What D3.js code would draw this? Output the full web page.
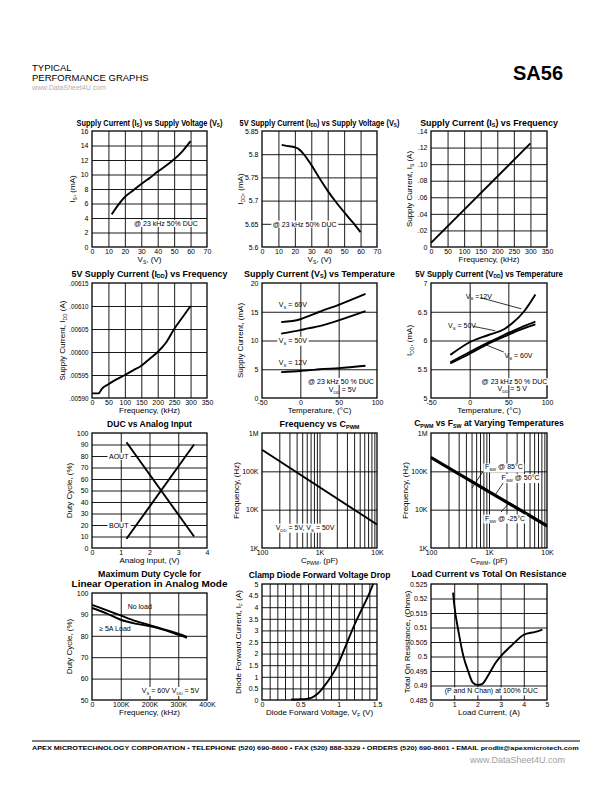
<!DOCTYPE html>
<html><head><meta charset="utf-8">
<script src="https://cdn.jsdelivr.net/npm/d3@7"></script>
<style>body{margin:0;background:#fff}</style>
</head><body><script>
// ---------------- DATA ----------------
// Chart 1: Supply Current Is vs Vs
const c1_vs=[12,15,20,25,30,35,40,45,50,55,60];
const c1_is=[4.5,5.5,6.9,7.8,8.7,9.5,10.4,11.2,12.1,13.2,14.6];
// Chart 2: 5V supply current Idd vs Vs
const c2_vs=[12,15,20,22,25,30,35,40,45,50,55,60];
const c2_idd=[5.82,5.818,5.815,5.812,5.802,5.777,5.748,5.721,5.697,5.675,5.654,5.632];
// Chart 3: Is vs frequency
const c3_f=[0,300];
const c3_is=[0.005,0.125];
// Chart 4: Idd vs frequency
const c4_f=[0,20,30,50,100,125,150,175,200,225,250,275,300];
const c4_idd=[0.00591,0.00591,0.00592,0.00593,0.00595,0.00596,0.00597,0.005985,0.006,0.00602,0.00605,0.006075,0.0061];
// Chart 5: Supply current vs temperature
const c5_t=[-25,0,10,25,50,85];
const c5_60=[13.2,13.7,14.2,15.0,16.2,18.1];
const c5_50=[11.2,11.8,12.1,12.5,13.5,15.1];
const c5_12=[4.5,4.7,4.8,5.0,5.2,5.6];
// Chart 6: Idd vs temperature
const c6_t=[-25,0,25,45,55,70,85];
const c6_12=[5.75,5.97,6.1,6.2,6.3,6.5,6.8];
const c6_50=[5.62,5.8,5.97,6.1,6.16,6.25,6.33];
const c6_60=[5.6,5.77,5.95,6.07,6.13,6.21,6.28];
// Chart 7: DUC vs analog input
const c7_v=[1.2,3.55];
const c7_aout=[92,10];
const c7_bout=[8,90];
// Chart 8: Frequency vs Cpwm
const c8_c=[100,10000];
const c8_f=[365000,4100];
// Chart 9: Cpwm vs Fsw at temperatures
const c9_c=[100,10000];
const c9_85=[240000,4000];
const c9_50=[230000,3800];
const c9_m25=[220000,3600];
// Chart 10: Maximum duty cycle
const c10_f=[0,50000,100000,150000,200000,250000,300000,330000];
const c10_noload=[94.5,92,89.5,87,85,83,81,79.5];
const c10_5a=[93,90.5,87.5,85.7,84.5,82.8,80.5,79];
// Chart 11: Clamp diode
const c11_v=[0.38,0.5,0.6,0.65,0.7,0.75,0.8,0.9,1.0,1.1,1.2,1.3,1.4,1.45];
const c11_i=[0.02,0.03,0.06,0.1,0.2,0.35,0.55,1.0,1.6,2.4,3.2,3.9,4.6,5.0];
// Chart 12: Load current vs on resistance
const c12_a=[0.95,1.0,1.2,1.4,1.6,1.8,2.0,2.2,2.5,2.8,3.0,3.5,4.0,4.5,4.8];
const c12_r=[0.522,0.518,0.508,0.5,0.495,0.491,0.4902,0.4905,0.494,0.498,0.5,0.504,0.5075,0.5085,0.5093];

// tick labels
const t_0_70=["0","10","20","30","40","50","60","70"];
const t_0_350=["0","50","100","150","200","250","300","350"];
const t_0_16=["0","2","4","6","8","10","12","14","16"];
const t_c2y=["5.6","5.65","5.7","5.75","5.8","5.85"];
const t_c3y=["0",".02",".04",".06",".08",".10",".12",".14"];
const t_c4y=[".00590",".00595",".00600",".00605",".00610",".00615"];
const t_temp=["-50","0","50","100"];
const t_c5y=["0","5","10","15","20"];
const t_c6y=["5","5.5","6","6.5","7"];
const t_c7x=["0","1","2","3","4"];
const t_c7y=["0","10","20","30","40","50","60","70","80","90","100"];
const t_logx=["100","1K","10K"];
const t_logy=["1K","10K","100K","1M"];
const t_c10x=["0","100K","200K","300K","400K"];
const t_c10y=["50","60","70","80","90","100"];
const t_c11x=["0","0.5","1","1.5"];
const t_c11y=["0","0.5","1","1.5","2","2.5","3","3.5","4","4.5","5"];
const t_c12x=["0","1","2","3","4","5"];
const t_c12y=["0.485","0.49","0.495","0.5","0.505","0.51","0.515","0.52","0.525"];

// ---------------- DRAW ----------------
const FONT="'Liberation Sans',Arial,Helvetica,sans-serif";
const svg=d3.select("body").append("svg").attr("width",612).attr("height",792)
  .style("font-family",FONT);

function rich(sel,str,fs,sh){
  const shift=fs*(sh==null?0.28:sh);
  const parts=str.split(/(_\{[^}]*\})/).filter(s=>s.length);
  let shifted=false;
  parts.forEach(p=>{
    if(p.startsWith("_{")){
      sel.append("tspan").attr("font-size",fs*0.62).attr("dy",shift).text(p.slice(2,-1));
      shifted=true;
    } else {
      const t=sel.append("tspan").text(p);
      if(shifted){t.attr("dy",-shift);shifted=false;}
    }
  });
  return sel;
}
// text squeezed horizontally to a target width (condensed look)
function squeezed(parent,cx,y,width,anchor){
  const g=parent.append("g");
  const t=g.append("text").attr("x",0).attr("y",0).attr("text-anchor",anchor);
  return {g,t,fit(){
    const w=t.node().getComputedTextLength();
    const s=width/w;
    g.attr("transform",`translate(${cx},${y}) scale(${s},1)`);
  }};
}
const zip=(a,b)=>a.map((v,i)=>[v,b[i]]);
const range=(a,b,s)=>d3.range(a,b+s/2,s).map(v=>+v.toFixed(6));
const logGrid=[200,300,400,500,600,700,800,900,1000,2000,3000,4000,5000,6000,7000,8000,9000];

function panel(c){
  const [x0,x1]=c.xr,[y0,y1]=c.yr;
  const x=(c.xlog?d3.scaleLog():d3.scaleLinear()).domain(c.xd).range([x0,x1]);
  const y=(c.ylog?d3.scaleLog():d3.scaleLinear()).domain(c.yd).range([y1,y0]);
  const g=svg.append("g");
  g.append("g").attr("transform",`translate(0,${y1})`)
    .call(d3.axisBottom(x).tickValues(c.xgrid).tickSize(-(y1-y0)).tickFormat(""))
    .call(s=>{s.select(".domain").remove();s.selectAll("line").attr("stroke","#000").attr("stroke-width",0.9);});
  g.append("g").attr("transform",`translate(${x0},0)`)
    .call(d3.axisLeft(y).tickValues(c.ygrid).tickSize(-(x1-x0)).tickFormat(""))
    .call(s=>{s.select(".domain").remove();s.selectAll("line").attr("stroke","#000").attr("stroke-width",0.9);});
  const xa=g.append("g").attr("transform",`translate(0,${y1})`)
    .call(d3.axisBottom(x).tickValues(c.xticks).tickFormat((d,i)=>c.xlab[i]).tickSize(0).tickPadding(2.5));
  xa.select(".domain").remove();
  xa.selectAll("text").attr("font-family",FONT).attr("font-size",c.xfs||7).attr("fill","#000");
  const ya=g.append("g").attr("transform",`translate(${x0},0)`)
    .call(d3.axisLeft(y).tickValues(c.yticks).tickFormat((d,i)=>c.ylab[i]).tickSize(0).tickPadding(3.5));
  ya.select(".domain").remove();
  ya.selectAll("text").attr("font-family",FONT).attr("font-size",c.yfs||7).attr("fill","#000");
  const line=d3.line().x(d=>x(d[0])).y(d=>y(d[1])).curve(c.curve||d3.curveMonotoneX);
  c.series.forEach(s=>{
    g.append("path").datum(s.data).attr("d",line).attr("fill","none")
      .attr("stroke","#000").attr("stroke-width",s.w||1.9).attr("stroke-linejoin","round");
  });
  g.append("rect").attr("x",x0).attr("y",y0).attr("width",x1-x0).attr("height",y1-y0)
    .attr("fill","none").attr("stroke","#000").attr("stroke-width",1.3);
  (c.leaders||[]).forEach(l=>{
    g.append("line").attr("x1",x(l[0][0])).attr("y1",y(l[0][1])).attr("x2",x(l[1][0])).attr("y2",y(l[1][1]))
      .attr("stroke","#000").attr("stroke-width",0.8);
  });
  (c.notes||[]).forEach(n=>{
    const fs=n.fs||7;
    const t=g.append("text").attr("x",x(n.x)).attr("y",y(n.y)).attr("font-size",fs)
      .attr("text-anchor",n.anchor||"start");
    rich(t,n.t,fs);
    if(n.bg){
      const b=t.node().getBBox();
      g.insert("rect",()=>t.node()).attr("x",b.x-1.5).attr("y",b.y).attr("width",b.width+3).attr("height",b.height).attr("fill","#fff");
    }
  });
  c.title.forEach((tt,i)=>{
    const q=squeezed(svg,(x0+x1)/2,c.ty+i*10,c.tw[i],"middle");
    q.t.attr("font-weight","bold").attr("font-size",c.tfs||9);
    rich(q.t,tt,c.tfs||9,0.2);
    q.fit();
  });
  const xl=svg.append("text").attr("x",(x0+x1)/2).attr("y",y1+15).attr("text-anchor","middle").attr("font-size",8);
  rich(xl,c.xlabel,8);
  const yl=svg.append("text").attr("transform",`translate(${x0-c.yoff},${(y0+y1)/2}) rotate(-90)`)
    .attr("text-anchor","middle").attr("font-size",8);
  rich(yl,c.ylabel,8);
}

const C1=[92,207],C2=[262,377],C3=[431,547];
const R1=[131,247],R2=[283,398],R3=[433,548],R4=[584,700];

panel({xr:C1,yr:R1,xd:[0,70],yd:[0,16],xgrid:range(10,60,10),ygrid:range(2,14,2),
  xticks:range(0,70,10),xlab:t_0_70,yticks:range(0,16,2),ylab:t_0_16,
  series:[{data:zip(c1_vs,c1_is)}],
  notes:[{x:45,y:2.9,t:"@ 23 kHz 50% DUC",anchor:"middle",bg:true}],
  title:["Supply Current (I_{S}) vs Supply Voltage (V_{S})"],tw:[146],ty:125.5,
  xlabel:"V_{S}, (V)",ylabel:"I_{S}, (mA)",yoff:17});

panel({xr:C2,yr:R1,xd:[0,70],yd:[5.6,5.85],xgrid:range(10,60,10),ygrid:[5.65,5.7,5.75,5.8],
  xticks:range(0,70,10),xlab:t_0_70,yticks:[5.6,5.65,5.7,5.75,5.8,5.85],ylab:t_c2y,
  series:[{data:zip(c2_vs,c2_idd)}],
  notes:[{x:26,y:5.644,t:"@ 23 kHz 50% DUC",anchor:"middle",bg:true}],
  title:["5V Supply Current (I_{DD}) vs Supply Voltage (V_{S})"],tw:[160],ty:125.5,
  xlabel:"V_{S}, (V)",ylabel:"I_{DD}, (mA)",yoff:19});

panel({xr:C3,yr:R1,xd:[0,350],yd:[0,0.14],xgrid:range(50,300,50),ygrid:range(0.02,0.12,0.02),
  xticks:range(0,350,50),xlab:t_0_350,yticks:range(0,0.14,0.02),ylab:t_c3y,
  series:[{data:zip(c3_f,c3_is)}],curve:d3.curveLinear,
  title:["Supply Current (I_{S}) vs Frequency"],tw:[138],ty:125.5,
  xlabel:"Frequency, (kHz)",ylabel:"Supply Current, I_{S} (A)",yoff:19});

panel({xr:C1,yr:R2,xd:[0,350],yd:[0.0059,0.00615],xgrid:range(50,300,50),ygrid:[0.00595,0.006,0.00605,0.0061],
  xticks:range(0,350,50),xlab:t_0_350,yticks:[0.0059,0.00595,0.006,0.00605,0.0061,0.00615],ylab:t_c4y,yfs:6.3,
  series:[{data:zip(c4_f,c4_idd)}],
  title:["5V Supply Current (I_{DD}) vs Frequency"],tw:[156],ty:276.5,
  xlabel:"Frequency, (kHz)",ylabel:"Supply Current, I_{DD} (A)",yoff:27});

panel({xr:C2,yr:R2,xd:[-50,100],yd:[0,20],xgrid:[0,50],ygrid:[5,10,15],
  xticks:[-50,0,50,100],xlab:t_temp,yticks:[0,5,10,15,20],ylab:t_c5y,
  series:[{data:zip(c5_t,c5_60)},{data:zip(c5_t,c5_50)},{data:zip(c5_t,c5_12)}],
  notes:[{x:-28,y:15.8,t:"V_{S} = 60V"},{x:-28,y:9.6,t:"V_{S} = 50V",bg:true},{x:-28,y:5.8,t:"V_{S} = 12V"},
    {x:53,y:2.45,t:"@ 23 kHz 50 % DUC",anchor:"middle",bg:true},{x:55,y:1.0,t:"V_{DD} = 5V",anchor:"middle"}],
  title:["Supply Current (V_{S}) vs Temperature"],tw:[151],ty:276.5,
  xlabel:"Temperature, (°C)",ylabel:"Supply Current, (mA)",yoff:19});

panel({xr:C3,yr:R2,xd:[-50,100],yd:[5,7],xgrid:[0,50],ygrid:[5.5,6,6.5],
  xticks:[-50,0,50,100],xlab:t_temp,yticks:[5,5.5,6,6.5,7],ylab:t_c6y,
  series:[{data:zip(c6_t,c6_12)},{data:zip(c6_t,c6_50)},{data:zip(c6_t,c6_60)}],
  leaders:[[[14,6.745],[67,6.55]],[[5,6.245],[33,6.17]],[[44,5.8],[20,5.93]]],
  notes:[{x:-5,y:6.73,t:"V_{S} =12V"},{x:-28,y:6.22,t:"V_{S} = 50V"},{x:45,y:5.7,t:"V_{S} = 60V"},
    {x:58,y:5.24,t:"@ 23 kHz 50 % DUC",anchor:"middle",bg:true},{x:55,y:5.12,t:"V_{DD} = 5 V",anchor:"middle"}],
  title:["5V Supply Current (V_{DD}) vs Temperature"],tw:[148],ty:276.5,
  xlabel:"Temperature, (°C)",ylabel:"I_{DD}, (mA)",yoff:19});

panel({xr:C1,yr:R3,xd:[0,4],yd:[0,100],xgrid:[1,2,3],ygrid:range(10,90,10),
  xticks:[0,1,2,3,4],xlab:t_c7x,yticks:range(0,100,10),ylab:t_c7y,
  series:[{data:zip(c7_v,c7_aout)},{data:zip(c7_v,c7_bout)}],curve:d3.curveLinear,
  notes:[{x:0.93,y:77.5,t:"AOUT",anchor:"middle",bg:true},{x:0.93,y:17.5,t:"BOUT",anchor:"middle",bg:true}],
  title:["DUC vs Analog Input"],tw:[85],ty:427,
  xlabel:"Analog Input, (V)",ylabel:"Duty Cycle, (%)",yoff:20});

panel({xr:C2,yr:R3,xlog:true,ylog:true,xd:[100,10000],yd:[1000,1e6],xgrid:logGrid,ygrid:[1e4,1e5],
  xticks:[100,1000,10000],xlab:t_logx,yticks:[1000,1e4,1e5,1e6],ylab:t_logy,
  series:[{data:zip(c8_c,c8_f)}],curve:d3.curveLinear,
  notes:[{x:560,y:3000,t:"V_{DD} = 5V, V_{S} = 50V",anchor:"middle",bg:true}],
  title:["Frequency vs C_{PWM}"],tw:[80],ty:427,
  xlabel:"C_{PWM}, (pF)",ylabel:"Frequency, (Hz)",yoff:23});

panel({xr:C3,yr:R3,xlog:true,ylog:true,xd:[100,10000],yd:[1000,1e6],xgrid:logGrid,ygrid:[1e4,1e5],
  xticks:[100,1000,10000],xlab:t_logx,yticks:[1000,1e4,1e5,1e6],ylab:t_logy,
  series:[{data:zip(c9_c,c9_85),w:1.8},{data:zip(c9_c,c9_50),w:1.8},{data:zip(c9_c,c9_m25),w:1.8}],curve:d3.curveLinear,
  leaders:[[[790,100000],[510,37000]],[[1900,59000],[1270,24000]],[[1610,8700],[2300,15700]]],
  notes:[{x:850,y:112000,t:"F_{SW} @ 85°C",bg:true},{x:1650,y:59000,t:"F_{SW} @ 50°C",bg:true},{x:850,y:5200,t:"F_{SW} @ -25°C",bg:true}],
  title:["C_{PWM} vs F_{SW} at Varying Temperatures"],tw:[150],ty:426,
  xlabel:"C_{PWM}, (pF)",ylabel:"Frequency, (Hz)",yoff:23});

panel({xr:C1,yr:[593,700],xd:[0,400000],yd:[50,100],xgrid:[1e5,2e5,3e5],ygrid:[60,70,80,90],
  xticks:[0,1e5,2e5,3e5,4e5],xlab:t_c10x,yticks:[50,60,70,80,90,100],ylab:t_c10y,
  series:[{data:zip(c10_f,c10_noload)},{data:zip(c10_f,c10_5a)}],
  notes:[{x:124000,y:92.6,t:"No load"},{x:25000,y:82.2,t:"≥ 5A Load"},
    {x:273000,y:53.3,t:"V_{S} = 60V V_{DD} = 5V",anchor:"middle",bg:true}],
  title:["Maximum Duty Cycle for","Linear Operation in Analog Mode"],tw:[103,156],ty:577,tfs:9.5,
  xlabel:"Frequency, (kHz)",ylabel:"Duty Cycle, (%)",yoff:20});

panel({xr:C2,yr:R4,xd:[0,1.5],yd:[0,5],xgrid:range(0.1,1.4,0.1),ygrid:range(0.5,4.5,0.5),
  xticks:[0,0.5,1,1.5],xlab:t_c11x,yticks:range(0,5,0.5),ylab:t_c11y,
  series:[{data:zip(c11_v,c11_i)}],
  title:["Clamp Diode Forward Voltage Drop"],tw:[142],ty:578,
  xlabel:"Diode Forward Voltage, V_{F} (V)",ylabel:"Diode Forward Current, I_{F} (A)",yoff:21});

panel({xr:C3,yr:R4,xd:[0,5],yd:[0.485,0.525],xgrid:[1,2,3,4],ygrid:range(0.49,0.52,0.005),
  xticks:[0,1,2,3,4,5],xlab:t_c12x,yticks:range(0.485,0.525,0.005),ylab:t_c12y,
  series:[{data:zip(c12_a,c12_r)}],
  notes:[{x:2.6,y:0.4873,t:"(P and N Chan) at 100% DUC",anchor:"middle",bg:true}],
  title:["Load Current vs Total On Resistance"],tw:[155],ty:577,
  xlabel:"Load Current, (A)",ylabel:"Total On Resistance, (Ohms)",yoff:21});

// ---------------- HEADER / FOOTER ----------------
svg.append("text").attr("x",32).attr("y",71).attr("font-size",9.5).text("TYPICAL");
svg.append("text").attr("x",32).attr("y",81).attr("font-size",9.5).text("PERFORMANCE GRAPHS");
svg.append("text").attr("x",32).attr("y",90).attr("font-size",7).attr("fill","#b0b0b0").text("www.DataSheet4U.com");
svg.append("text").attr("x",563).attr("y",80).attr("text-anchor","end").attr("font-size",20)
  .attr("font-weight","bold").text("SA56");
svg.append("line").attr("x1",32).attr("x2",580).attr("y1",741).attr("y2",741).attr("stroke","#000").attr("stroke-width",1);
const ft=squeezed(svg,32,750,548,"start");
ft.t.attr("font-size",6).attr("font-weight","bold")
  .text("APEX MICROTECHNOLOGY CORPORATION • TELEPHONE (520) 690-8600 • FAX (520) 888-3329 • ORDERS (520) 690-8601 • EMAIL prodlit@apexmicrotech.com");
ft.fit();
svg.append("text").attr("x",565).attr("y",763).attr("text-anchor","end").attr("font-size",9).attr("fill","#a0a0a0")
  .text("www.DataSheet4U.com");
</script></body></html>
